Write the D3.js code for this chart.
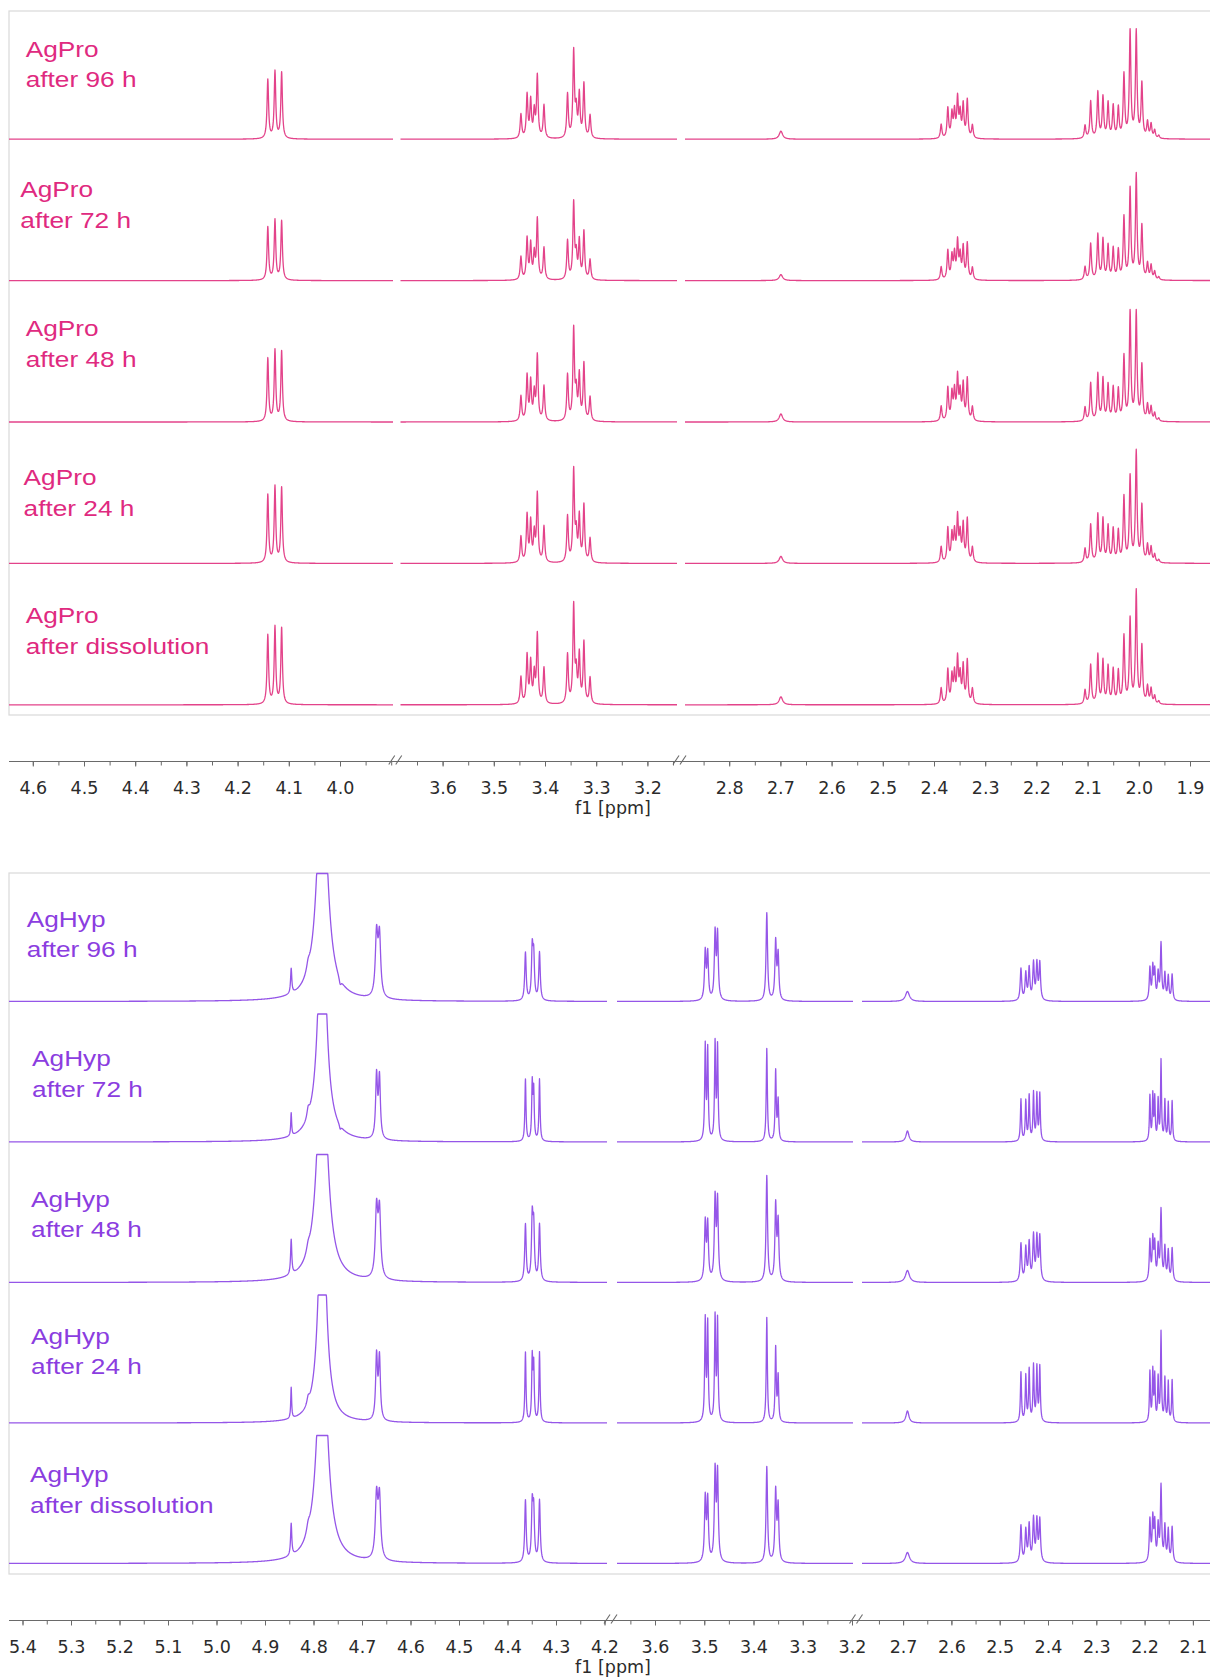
<!DOCTYPE html>
<html>
<head>
<meta charset="utf-8">
<script src="https://cdn.jsdelivr.net/npm/d3@7"></script>
<style>
  body { margin: 0; background: #fff; }
  svg { display: block; }
</style>
</head>
<body>
<div id="chart"></div>
<script>
// stacked 1H NMR traces, rows listed top to bottom
const proName = "AgPro";
const hypName = "AgHyp";
const rowTimes = ["after 96 h", "after 72 h", "after 48 h", "after 24 h", "after dissolution"];

// tick labels (ppm) for each piece of the broken axis
const proTicks = [[4.6, 4.5, 4.4, 4.3, 4.2, 4.1, 4.0], [3.6, 3.5, 3.4, 3.3, 3.2], [2.8, 2.7, 2.6, 2.5, 2.4, 2.3, 2.2, 2.1, 2.0, 1.9]];
const hypTicks = [[5.4, 5.3, 5.2, 5.1, 5.0, 4.9, 4.8, 4.7, 4.6, 4.5, 4.4, 4.3, 4.2], [3.6, 3.5, 3.4, 3.3, 3.2], [2.7, 2.6, 2.5, 2.4, 2.3, 2.2, 2.1]];

// AgPro lines: positions (ppm) and line heights per row
const pro413 = [4.141, 4.127, 4.114];
const pro413H = [[59, 67, 66], [53, 60, 59], [63, 71, 70], [68, 76, 75], [69, 77, 76]];
const pro342 = [3.447, 3.435, 3.428, 3.421, 3.415, 3.402];
const pro342H = [[24, 43, 37, 26, 62, 33], [23, 41, 35, 25, 60, 32], [25, 45, 39, 27, 65, 35], [26, 47, 40, 28, 68, 36], [27, 48, 41, 29, 69, 36]];
const pro334 = [3.356, 3.344, 3.339, 3.333, 3.324, 3.312];
const pro334H = [[44, 86, 26, 43, 54, 23], [39, 76, 23, 38, 48, 20], [46, 91, 27, 45, 57, 24], [46, 91, 27, 45, 57, 24], [49, 97, 29, 48, 61, 26]];
const pro270 = [2.699];
const pro270H = [[8], [6], [8], [7], [8]];
const pro235 = [2.386, 2.373, 2.365, 2.360, 2.354, 2.349, 2.343, 2.335, 2.325];
const pro235H = [[14, 30, 24, 26, 39, 24, 33, 38, 13], [13, 29, 23, 25, 37, 23, 32, 36, 12], [15, 33, 27, 29, 43, 27, 36, 42, 14], [16, 34, 27, 29, 44, 27, 37, 43, 15], [16, 34, 27, 29, 44, 27, 37, 43, 15]];
const pro200 = [2.105, 2.094, 2.080, 2.070, 2.060, 2.050, 2.040, 2.029, 2.017, 2.005, 1.994, 1.983, 1.976, 1.969, 1.961];
const pro200H = [
  [13, 37, 46, 41, 35, 32, 30, 63, 106, 106, 54, 16, 14, 8, 3],
  [13, 36, 45, 40, 34, 31, 29, 62, 90, 104, 53, 16, 14, 8, 3],
  [14, 38, 47, 42, 36, 33, 31, 64, 108, 108, 55, 16, 14, 8, 3],
  [14, 38, 48, 43, 36, 33, 31, 65, 85, 110, 56, 17, 15, 8, 3],
  [14, 39, 49, 43, 37, 34, 32, 67, 84, 112, 57, 17, 15, 8, 3]
];

// AgHyp lines
const hypWater = [4.782];
const hypWaterH = [[250], [250], [250], [250], [250]];
const hypWaterBase = [4.785];
const hypWaterBaseH = [[0], [14], [0], [0], [0]];
const hypShoulder = [4.811];
const hypShoulderH = [[8], [9], [7], [7], [8]];
const hypDip = [4.745];
const hypDipH = [[-6], [-4], [0], [0], [0]];
const hyp485 = [4.846];
const hyp485H = [[25], [23], [35], [31], [32]];
const hyp467 = [4.670, 4.664];
const hyp467H = [[62, 60], [63, 61], [68, 66], [64, 62], [62, 61]];
const hyp435 = [4.363, 4.349, 4.346, 4.334];
const hyp435H = [[48, 50, 42, 48], [62, 56, 48, 62], [57, 61, 51, 57], [70, 62, 54, 70], [62, 55, 48, 62]];
const hyp350 = [3.498, 3.493, 3.478, 3.473];
const hyp350H = [[48, 46, 66, 65], [94, 90, 96, 93], [58, 56, 81, 79], [101, 97, 103, 100], [63, 61, 89, 87]];
const hyp336 = [3.373, 3.355, 3.350];
const hyp336H = [[88, 58, 45], [93, 70, 40], [106, 75, 58], [105, 74, 45], [96, 70, 55]];
const hyp270 = [2.691];
const hyp270H = [[10], [11], [12], [12], [11]];
const hyp243 = [2.456, 2.446, 2.439, 2.430, 2.423, 2.417];
const hyp243H = [[32, 27, 32, 37, 36, 37], [42, 40, 45, 48, 46, 47], [38, 33, 38, 45, 43, 44], [50, 46, 52, 56, 54, 55], [37, 32, 37, 43, 41, 42]];
const hyp217 = [2.189, 2.183, 2.179, 2.172, 2.166, 2.158, 2.151, 2.143];
const hyp217H = [[32, 32, 28, 26, 56, 26, 24, 26], [45, 45, 42, 40, 80, 40, 38, 40], [40, 40, 35, 33, 70, 33, 30, 33], [50, 50, 45, 43, 89, 43, 40, 42], [42, 42, 37, 35, 75, 35, 32, 35]];

// line half-widths (ppm)
const proGroups = [
  {ppm: pro413, h: pro413H, w: 0.0018}, {ppm: pro342, h: pro342H, w: 0.0018},
  {ppm: pro334, h: pro334H, w: 0.0018}, {ppm: pro270, h: pro270H, w: 0.004},
  {ppm: pro235, h: pro235H, w: 0.0018}, {ppm: pro200, h: pro200H, w: 0.0018}
];
const hypGroups = [
  {ppm: hypWater, h: hypWaterH, w: 0.0118}, {ppm: hypWaterBase, h: hypWaterBaseH, w: 0.03},
  {ppm: hypShoulder, h: hypShoulderH, w: 0.004}, {ppm: hypDip, h: hypDipH, w: 0.0025},
  {ppm: hyp485, h: hyp485H, w: 0.0015}, {ppm: hyp467, h: hyp467H, w: 0.003},
  {ppm: hyp435, h: hyp435H, w: 0.0018}, {ppm: hyp350, h: hyp350H, w: 0.0018},
  {ppm: hyp336, h: hyp336H, w: 0.0018}, {ppm: hyp270, h: hyp270H, w: 0.005},
  {ppm: hyp243, h: hyp243H, w: 0.0018}, {ppm: hyp217, h: hyp217H, w: 0.0016}
];
const hypSharp = [1, 0.75, 1, 0.75, 1];
const proSharp = [1, 1, 1, 1, 1];

const W = 1210, H = 1679;

const panels = [
  {
    name: proName, groups: proGroups, ticks: proTicks, sharp: proSharp,
    line: "#e3438a", text: "#df2a80",
    frame: {y0: 11, y1: 715}, base0: 139.2, step: 141.4, axisY: 761.5,
    // anchor ppm, anchor x, px per ppm, x extent
    pieces: [
      {a: 4.0, ax: 340, k: 512, x: [9, 393]},
      {a: 3.4, ax: 545, k: 512, x: [400.5, 677]},
      {a: 2.4, ax: 934, k: 512, x: [685, W]}
    ],
    labelPos: [[25.7, -89.9], [20.3, -91], [25.7, -93.2], [23.6, -85.6], [25.7, -88.9]]
  },
  {
    name: hypName, groups: hypGroups, ticks: hypTicks, sharp: hypSharp,
    line: "#9556e8", text: "#8b3de0",
    frame: {y0: 873, y1: 1574}, base0: 1001.5, step: 140.5, axisY: 1620.5,
    pieces: [
      {a: 4.8, ax: 313.5, k: 485, x: [9, 607]},
      {a: 3.4, ax: 753.5, k: 492.5, x: [617, 853]},
      {a: 2.4, ax: 1048, k: 483, x: [862, W]}
    ],
    labelPos: [[26.8, -82.5], [32.1, -83.5], [31.1, -83.5], [31.1, -86.7], [30, -88.9]]
  }
];

const CLIP = 128;

const svg = d3.select("#chart").append("svg")
  .attr("width", W).attr("height", H);

panels.forEach(panel => {
  // x scale for each piece of the broken axis
  panel.scales = panel.pieces.map(pc => {
    const s = d3.scaleLinear().domain([pc.a, pc.a - 1]).range([pc.ax, pc.ax + pc.k]);
    return d3.scaleLinear().domain([s.invert(pc.x[0]), s.invert(pc.x[1])]).range(pc.x);
  });

  const g = svg.append("g").attr("class", "panel");

  g.append("rect")
    .attr("x", 9).attr("y", panel.frame.y0)
    .attr("width", W).attr("height", panel.frame.y1 - panel.frame.y0)
    .attr("fill", "none").attr("stroke", "#d9d9d9").attr("stroke-width", 1.2);

  rowTimes.forEach((t, r) => {
    const base = panel.base0 + r * panel.step;
    const y = d3.scaleLinear().domain([0, 100]).range([base, base - 100]);
    const intensity = p => {
      let v = 0;
      panel.groups.forEach(m => {
        const w = m.w * panel.sharp[r];
        m.ppm.forEach((c, j) => {
          const d = (p - c) / w;
          v += m.h[r][j] / (1 + d * d);
        });
      });
      return v;
    };
    const line = d3.line().x(d => d.x).y(d => y(d.v));

    panel.scales.forEach(sc => {
      const [x0, x1] = sc.range();
      const dom = sc.domain();
      let ps = d3.range(x0, x1, 0.25).concat([x1]).map(x => sc.invert(x));
      panel.groups.forEach(m => m.ppm.forEach(c => {
        if (c <= dom[0] && c >= dom[1]) ps.push(c);
      }));
      ps.sort((a, b) => b - a);
      const pts = ps.map(p => ({x: sc(p), v: Math.min(CLIP, intensity(p))}));
      g.append("path")
        .datum(pts)
        .attr("class", "trace")
        .attr("fill", "none")
        .attr("stroke", panel.line)
        .attr("stroke-width", 1.3)
        .attr("stroke-linejoin", "round")
        .attr("d", line);
    });

    // row label
    const [lx, ly] = panel.labelPos[r];
    [panel.name, t].forEach((s, i) => {
      g.append("text")
        .attr("transform", `translate(${lx},${base + ly + i * 30.5}) scale(1.22,1)`)
        .attr("dy", "0.35em")
        .attr("fill", panel.text)
        .style("font-family", "'Liberation Sans', Arial, sans-serif")
        .style("font-size", "21.5px")
        .text(s);
    });
  });

  // broken ppm axis
  const ay = panel.axisY;
  const ax = g.append("g").attr("class", "axis");
  ax.append("line")
    .attr("x1", 9).attr("x2", W).attr("y1", ay).attr("y2", ay)
    .attr("stroke", "#6a6a6a").attr("stroke-width", 1.1);

  panel.scales.forEach((sc, i) => {
    const dom = sc.domain();
    const minor = d3.range(Math.ceil(dom[1] * 20), Math.floor(dom[0] * 20) + 1).map(v => v / 20);
    ax.append("g")
      .attr("transform", `translate(0,${ay})`)
      .call(d3.axisBottom(sc).tickValues(minor).tickSize(4).tickFormat(""))
      .call(a => a.select(".domain").remove())
      .call(a => a.selectAll("line").attr("stroke", "#6a6a6a"));
    ax.append("g")
      .attr("transform", `translate(0,${ay})`)
      .call(d3.axisBottom(sc).tickValues(panel.ticks[i]).tickSize(5).tickPadding(15).tickFormat(d3.format(".1f")))
      .call(a => a.select(".domain").remove())
      .call(a => a.selectAll("line").attr("stroke", "#6a6a6a"))
      .call(a => a.selectAll("text")
        .attr("fill", "#2b2b2b")
        .style("font-family", "'DejaVu Sans', sans-serif")
        .style("font-size", "17.5px"));
  });

  // break marks between pieces
  panel.pieces.slice(1).forEach((pc, i) => {
    const bx = (panel.pieces[i].x[1] + pc.x[0]) / 2;
    [-7, 0].forEach(o => {
      ax.append("line")
        .attr("x1", bx + o - 1).attr("y1", ay + 3)
        .attr("x2", bx + o + 5).attr("y2", ay - 6)
        .attr("stroke", "#6a6a6a").attr("stroke-width", 1.1);
    });
  });

  ax.append("text")
    .attr("x", 613).attr("y", ay + 52)
    .attr("text-anchor", "middle")
    .attr("fill", "#2b2b2b")
    .style("font-family", "'DejaVu Sans', sans-serif")
    .style("font-size", "17.5px")
    .text("f1 [ppm]");
});
</script>
</body>
</html>
